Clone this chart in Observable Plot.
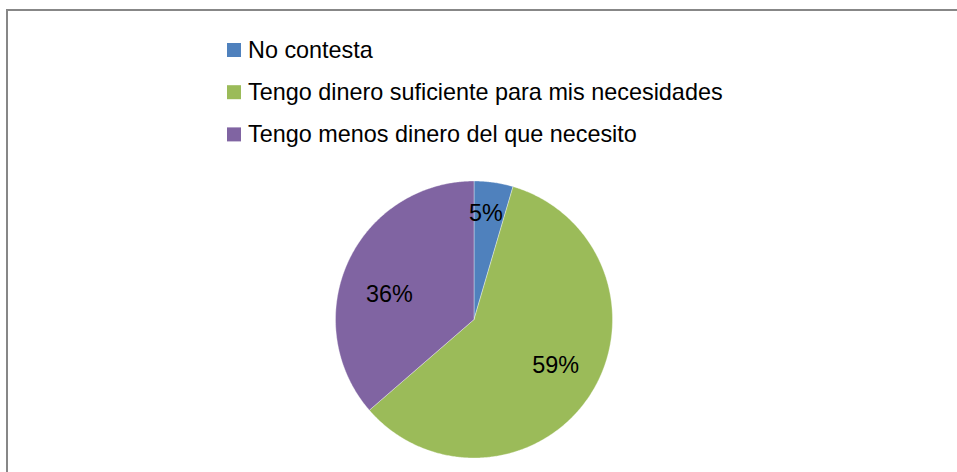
<!DOCTYPE html>
<html><head><meta charset="utf-8">
<script src="https://cdn.jsdelivr.net/npm/d3@7"></script>
<script src="https://cdn.jsdelivr.net/npm/@observablehq/plot@0.6"></script>
<style>
html,body{margin:0;padding:0;background:#fff;overflow:hidden;width:957px;height:472px}
#frame{position:absolute;left:6px;top:9px;width:1000px;height:1000px;border:2px solid #878787;box-sizing:border-box}
#chart{position:absolute;left:0;top:0}
</style></head><body>
<div id="frame"></div><div id="chart"></div>
<script>
// Data
const categories = ["No contesta", "Tengo dinero suficiente para mis necesidades", "Tengo menos dinero del que necesito"];
const counts = [1, 13, 8];
const pctLabels = ["5%", "59%", "36%"];
const colors = ["#4F81BD", "#9BBB59", "#8064A2"];

// Layout
const W = 957, H = 472, cx = 473.5, cy = 319, R = 138.5;
const labelR = 0.7 * R;
const labelNudge = [[-2, -10], [0, -6], [3.5, 15]];
const legendX = 227, legendY0 = 50, legendStep = 42.2, sw = 14;
const font = "Liberation Sans, Arial, sans-serif";
const fs = 23.4;

const total = d3.sum(counts);
let acc = 0;
const slices = categories.map((c, i) => {
  const a0 = acc / total * 2 * Math.PI; acc += counts[i];
  const a1 = acc / total * 2 * Math.PI;
  return {c, a0, a1, i};
});
const pts = [];
for (const s of slices) {
  pts.push({c: s.c, x: cx, y: cy});
  const n = Math.max(2, Math.ceil((s.a1 - s.a0) / (Math.PI / 360)));
  for (let k = 0; k <= n; k++) {
    const a = s.a0 + (s.a1 - s.a0) * k / n;
    pts.push({c: s.c, x: cx + R * Math.sin(a), y: cy - R * Math.cos(a)});
  }
  pts.push({c: s.c, x: cx, y: cy});
}
const lab = slices.map(s => {
  const m = (s.a0 + s.a1) / 2;
  return {t: pctLabels[s.i], x: cx + labelR * Math.sin(m) + labelNudge[s.i][0], y: cy - labelR * Math.cos(m) + labelNudge[s.i][1]};
});
const leg = categories.map((c, i) => ({c, y: legendY0 + i * legendStep}));

const plot = Plot.plot({
  width: W, height: H, margin: 0,
  x: {domain: [0, W], range: [0, W], axis: null},
  y: {domain: [0, H], range: [0, H], axis: null},
  color: {domain: categories, range: colors},
  style: {fontFamily: font, background: "transparent"},
  marks: [
    Plot.line(pts, {x: "x", y: "y", z: "c", fill: "c", stroke: "#fff", strokeWidth: 0.6, strokeOpacity: 0.6}),
    Plot.text(lab, {x: "x", y: "y", text: "t", fontSize: fs, fill: "#000"}),
    Plot.rect(leg, {x1: legendX, x2: legendX + sw, y1: d => d.y - sw / 2, y2: d => d.y + sw / 2, fill: "c"}),
    Plot.text(leg, {x: legendX + 20.5, y: "y", text: "c", textAnchor: "start", fontSize: fs, fill: "#000"})
  ]
});
document.getElementById("chart").appendChild(plot);
</script>
</body></html>
